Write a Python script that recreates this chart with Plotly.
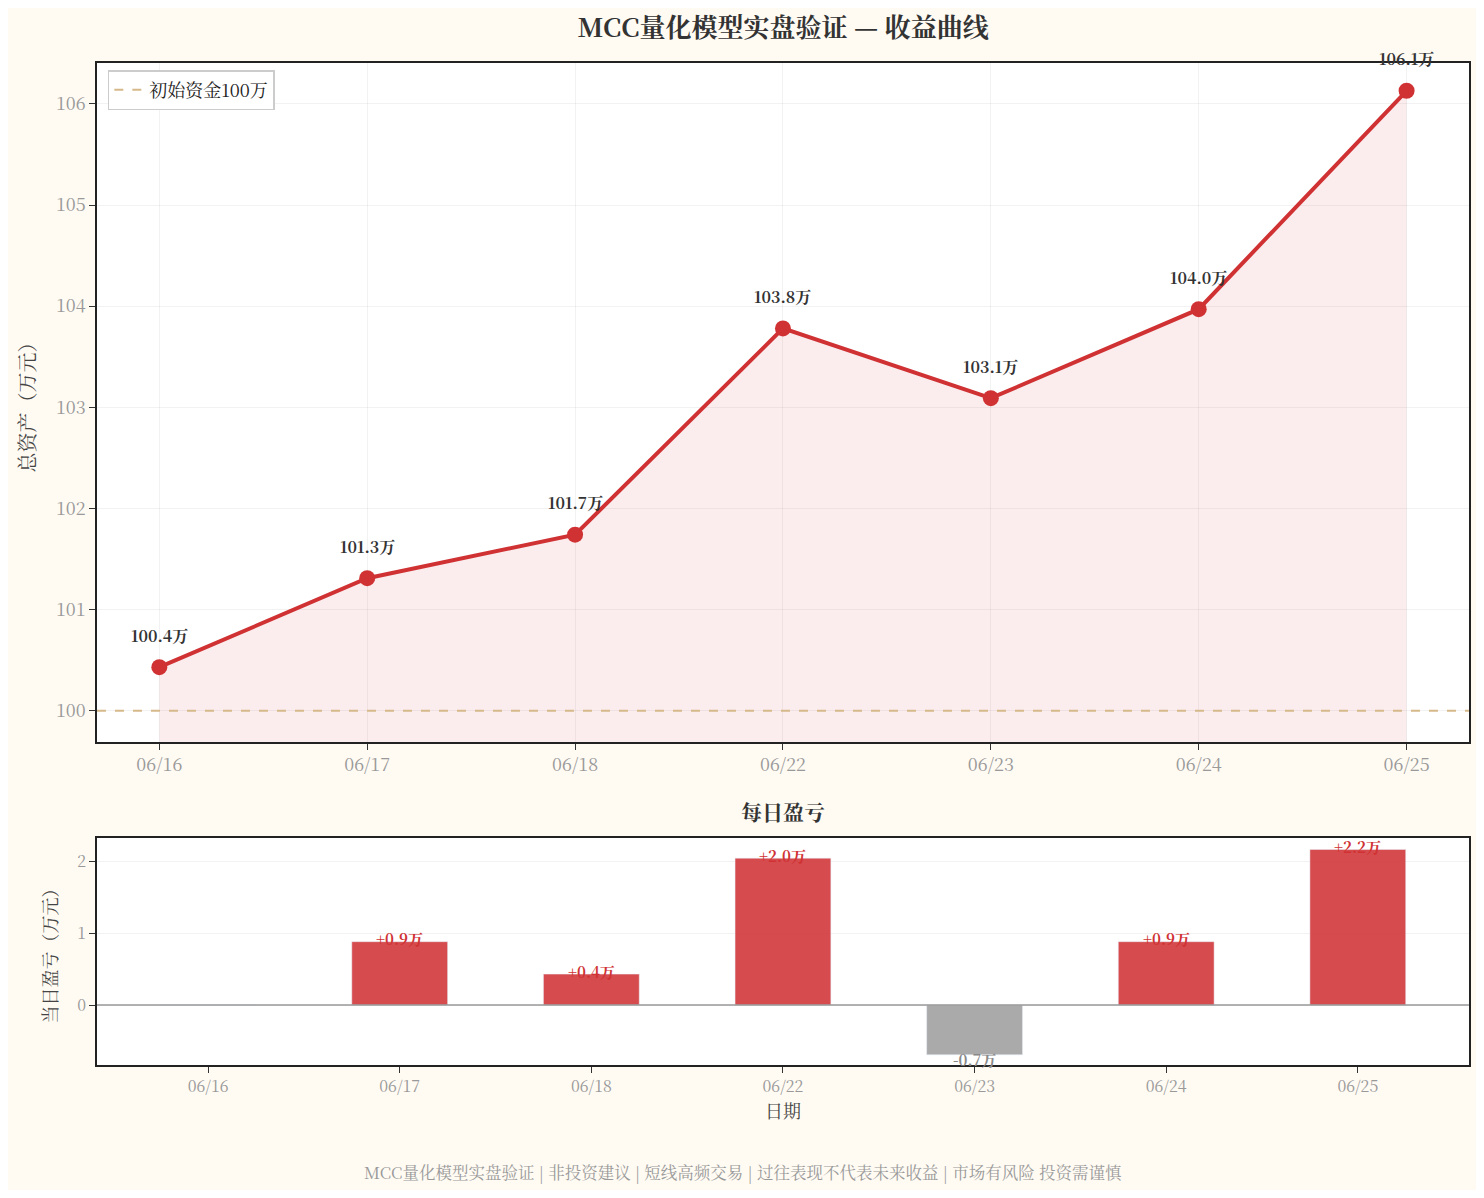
import plotly.graph_objects as go

dates = ["06/16", "06/17", "06/18", "06/22", "06/23", "06/24", "06/25"]
total_assets = [100.43, 101.31, 101.74, 103.78, 103.09, 103.97, 106.13]
daily_pnl = [0, 0.88, 0.43, 2.04, -0.69, 0.88, 2.16]
initial = 100

FONT = "Noto Serif CJK SC, Liberation Serif, DejaVu Serif, serif"
RED = "#d03234"

fig = go.Figure()

# fill under curve
fig.add_trace(go.Scatter(x=list(range(7)), y=total_assets, fill="tozeroy",
                         fillcolor="rgba(210,60,70,0.09)", line=dict(width=0),
                         mode="lines", showlegend=False, hoverinfo="skip",
                         xaxis="x", yaxis="y"))
fig.add_trace(go.Scatter(x=[-0.3, 6.3], y=[initial, initial], mode="lines",
                         line=dict(color="#d6b98a", width=2, dash="dash"),
                         name="初始资金100万", xaxis="x", yaxis="y"))
fig.add_trace(go.Scatter(x=list(range(7)), y=total_assets, mode="lines+markers",
                         line=dict(color=RED, width=4), marker=dict(color=RED, size=16),
                         showlegend=False, xaxis="x", yaxis="y"))
for i, v in enumerate(total_assets):
    fig.add_annotation(x=i, y=v, xref="x", yref="y", text=f"<b>{v:.1f}万</b>",
                       showarrow=False, yshift=32, font=dict(size=16, color="#333"))

fig.add_trace(go.Bar(x=list(range(7)), y=daily_pnl, width=0.5,
                     marker=dict(color=["rgba(208,50,52,0.88)" if v >= 0 else "#aaaaaa" for v in daily_pnl]),
                     showlegend=False, xaxis="x2", yaxis="y2"))
for i, v in enumerate(daily_pnl):
    if v == 0:
        continue
    fig.add_annotation(x=i, y=v, xref="x2", yref="y2",
                       text=f"<b>{v:+.1f}万</b>", showarrow=False,
                       yshift=3 if v > 0 else -5,
                       font=dict(size=15, color=RED if v > 0 else "#888"))

fig.add_shape(type="line", x0=-0.58, x1=6.58, y0=0, y1=0, xref="x2", yref="y2",
              line=dict(color="#999", width=1.5))

grid = "rgba(0,0,0,0.05)"
fig.update_layout(
    width=1468, height=1182,
    paper_bgcolor="#fffbf3", plot_bgcolor="white",
    margin=dict(l=0, r=0, t=0, b=0),
    font=dict(family=FONT, color="#333"),
    title=dict(text="<b>MCC量化模型实盘验证 — 收益曲线</b>", x=0.528, y=0.983,
               xanchor="center", yanchor="middle", font=dict(size=26, color="#333")),
    xaxis=dict(domain=[0.0606, 0.9952], range=[-0.3, 6.3], tickvals=list(range(7)),
               ticktext=dates, showgrid=True, gridcolor=grid, zeroline=False,
               ticks="outside", ticklen=6, tickcolor="#333",
               tickfont=dict(size=18, color="#999"),
               showline=True, linecolor="#222", linewidth=1.5, mirror=True, anchor="y"),
    yaxis=dict(domain=[0.379, 0.9535], range=[99.69, 106.405], dtick=1,
               showgrid=True, gridcolor=grid, zeroline=False,
               ticks="outside", ticklen=6, tickcolor="#333",
               tickfont=dict(size=18, color="#999"),
               title=dict(text="总资产（万元）", font=dict(size=20, color="#444")),
               showline=True, linecolor="#222", linewidth=1.5, mirror=True, anchor="x"),
    xaxis2=dict(domain=[0.0606, 0.9952], range=[-0.58, 6.58], tickvals=list(range(7)),
                ticktext=dates, showgrid=False, zeroline=False,
                ticks="outside", ticklen=6, tickcolor="#333",
                tickfont=dict(size=16, color="#999"),
                title=dict(text="日期", font=dict(size=18, color="#444"), standoff=8),
                showline=True, linecolor="#222", linewidth=1.5, mirror=True, anchor="y2"),
    yaxis2=dict(domain=[0.1057, 0.2978], range=[-0.833, 2.32], dtick=1,
                showgrid=True, gridcolor=grid, zeroline=False,
                ticks="outside", ticklen=6, tickcolor="#333",
                tickfont=dict(size=16, color="#999"),
                title=dict(text="当日盈亏（万元）", font=dict(size=18, color="#444")),
                showline=True, linecolor="#222", linewidth=1.5, mirror=True, anchor="x2"),
    legend=dict(x=0.068, y=0.9475, xanchor="left", yanchor="top",
                bgcolor="white", bordercolor="#ccc", borderwidth=1.5,
                font=dict(size=18, color="#222")),
    annotations=list(fig.layout.annotations) + [
        dict(text="<b>每日盈亏</b>", x=0.528, y=0.3063, xref="paper", yref="paper",
             xanchor="center", yanchor="bottom", showarrow=False,
             font=dict(size=21, color="#333")),
        dict(text="MCC量化模型实盘验证 | 非投资建议 | 短线高频交易 | 过往表现不代表未来收益 | 市场有风险 投资需谨慎",
             x=0.5007, y=0.0152, xref="paper", yref="paper",
             xanchor="center", yanchor="middle", showarrow=False,
             font=dict(size=16.5, color="#999")),
    ],
)

fig.write_html("out.html")
